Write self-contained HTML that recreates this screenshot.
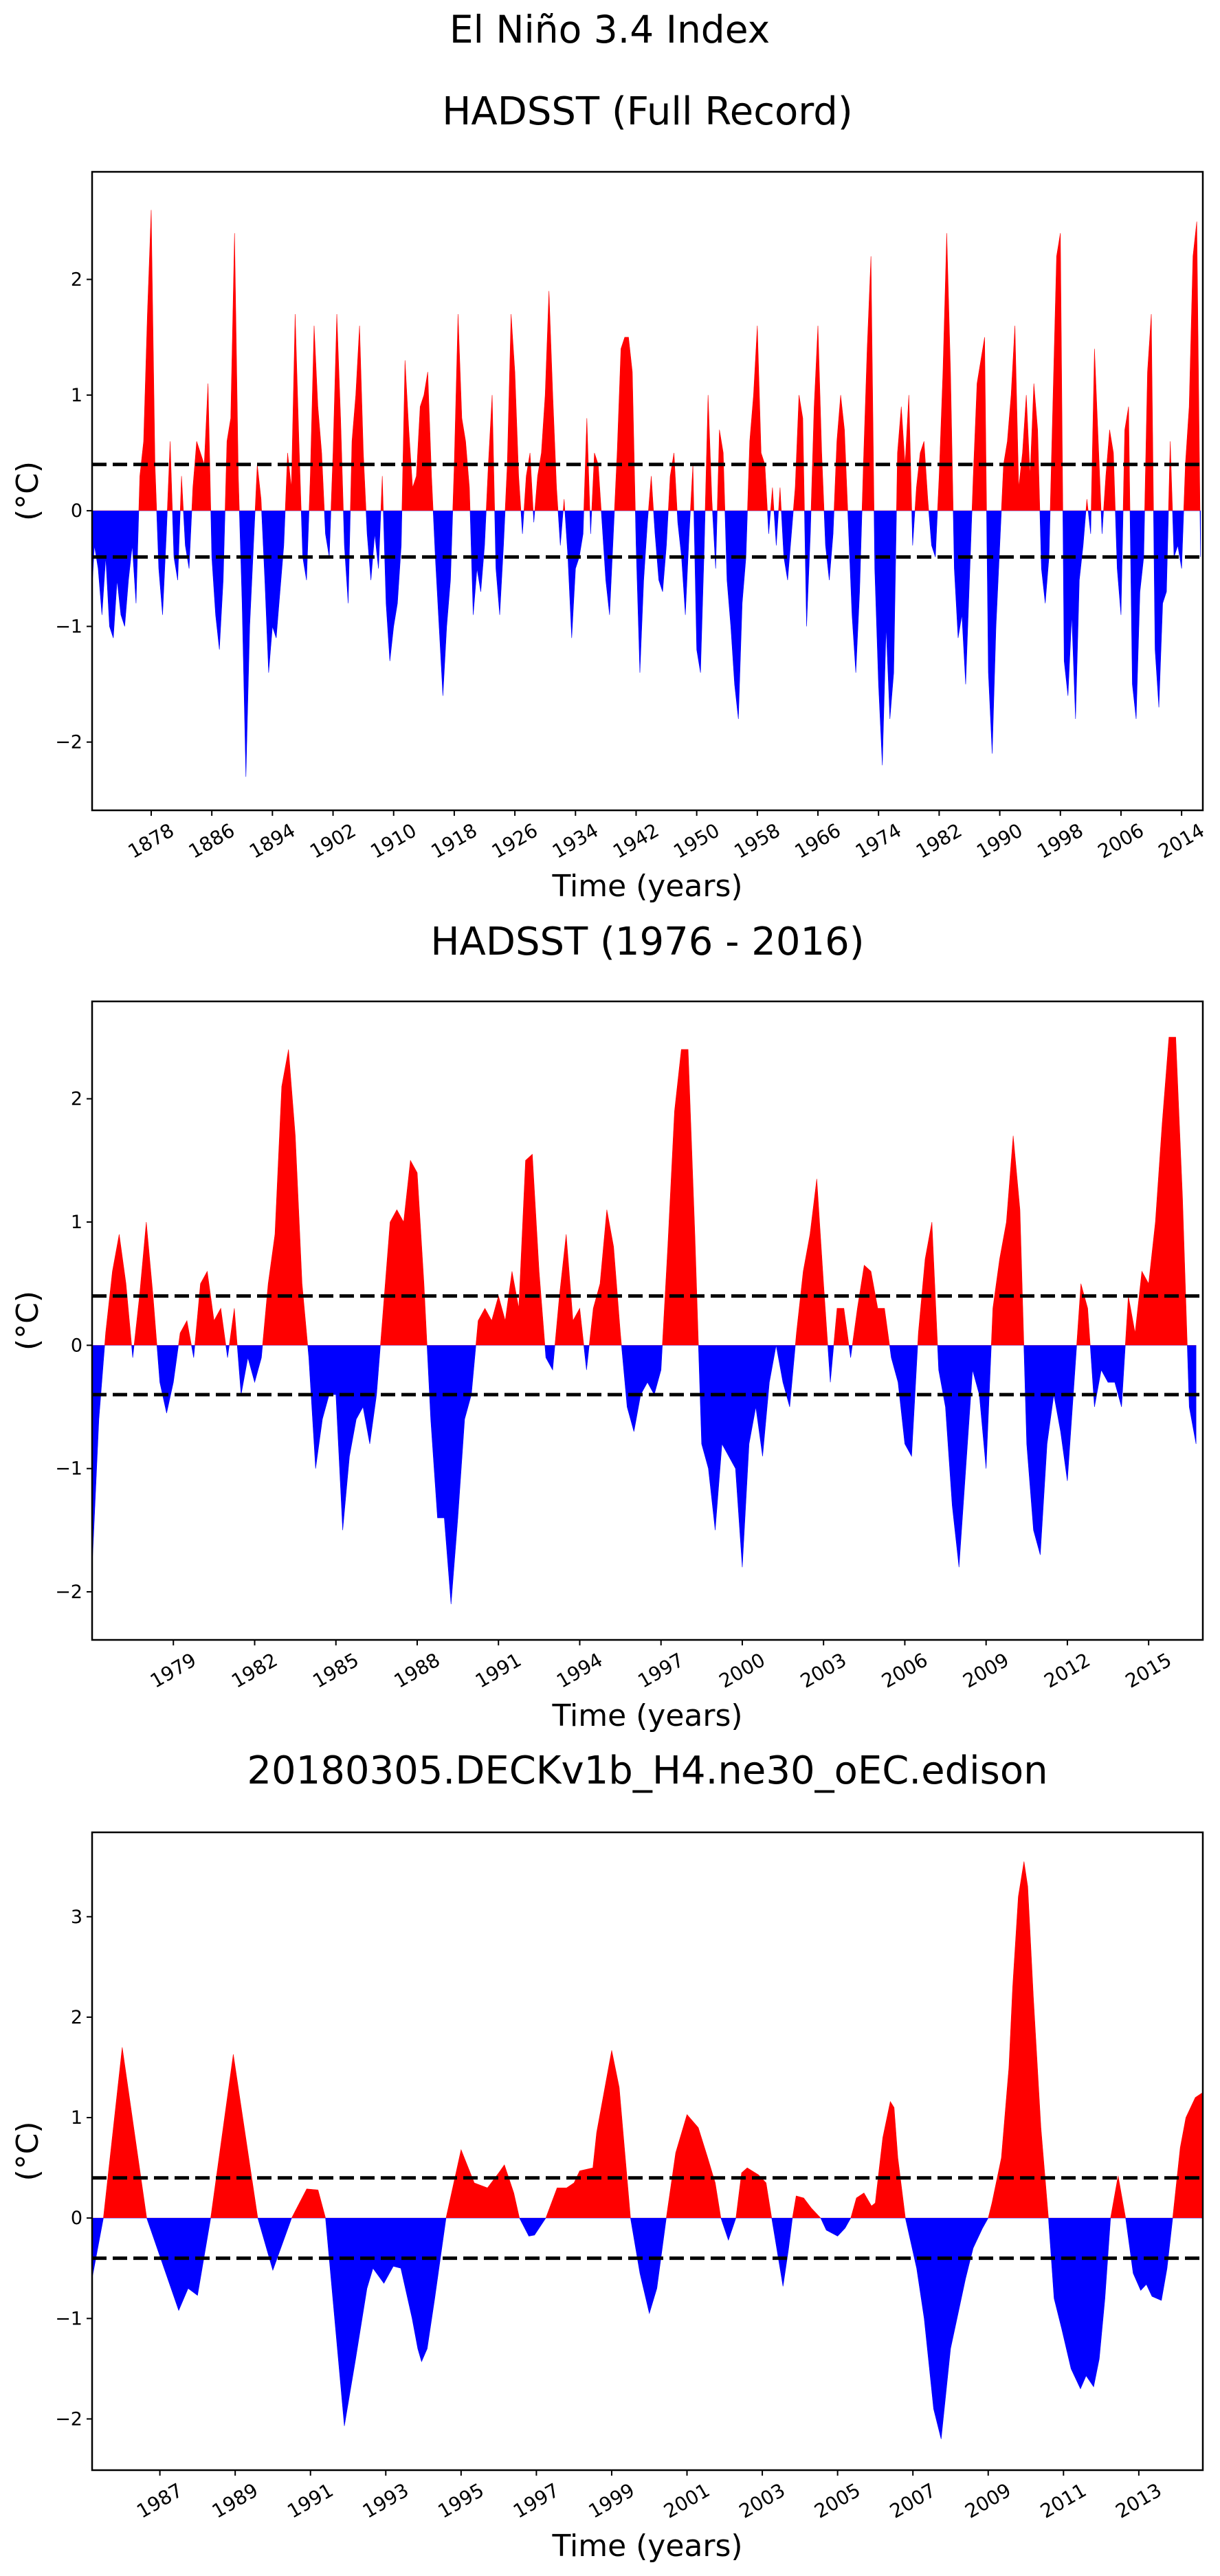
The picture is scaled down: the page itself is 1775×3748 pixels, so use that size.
<!DOCTYPE html>
<html><head><meta charset="utf-8"><title>El Niño 3.4 Index</title>
<style>html,body{margin:0;padding:0;background:#fff}svg{display:block}text{font-family:"DejaVu Sans","Liberation Sans",sans-serif;fill:#000}</style>
</head><body>
<svg id="fig" xmlns="http://www.w3.org/2000/svg" width="1775" height="3748" viewBox="0 0 1775 3748">
<rect width="1775" height="3748" fill="#fff"/>
<text x="887" y="62" font-size="55" text-anchor="middle">El Niño 3.4 Index</text>
</svg>
<script>
// ---- Panel 1: HADSST full record (half-year steps from 1870.0) ----
const p1Start = 1870.0;
const p1Step = 0.5;
const p1Values = [
-0.9,-0.3,-0.5,-0.9,-0.4,-1.0,-1.1,-0.6,-0.9,-1.0,-0.6,-0.3,-0.8,0.3,0.6,1.7,2.6,0.4,-0.5,-0.9,
-0.2,0.6,-0.4,-0.6,0.3,-0.3,-0.5,0.2,0.6,0.5,0.4,1.1,-0.4,-0.9,-1.2,-0.6,0.6,0.8,2.4,0.3,
-0.8,-2.3,-1.0,-0.3,0.4,0.1,-0.6,-1.4,-1.0,-1.1,-0.7,-0.3,0.5,0.2,1.7,0.6,-0.4,-0.6,0.3,1.6,
0.9,0.5,-0.2,-0.4,0.5,1.7,0.8,-0.3,-0.8,0.6,1.0,1.6,0.5,-0.2,-0.6,-0.2,-0.5,0.3,-0.8,-1.3,
-1.0,-0.8,-0.3,1.3,0.7,0.2,0.3,0.9,1.0,1.2,0.3,-0.4,-1.0,-1.6,-1.0,-0.6,0.4,1.7,0.8,0.6,
0.2,-0.9,-0.5,-0.7,-0.3,0.4,1.0,-0.5,-0.9,-0.3,0.4,1.7,1.2,0.3,-0.2,0.3,0.5,-0.1,0.3,0.5,
1.0,1.9,1.0,0.2,-0.3,0.1,-0.4,-1.1,-0.5,-0.4,-0.2,0.8,-0.2,0.5,0.4,-0.1,-0.6,-0.9,-0.2,0.5,
1.4,1.5,1.5,1.2,-0.3,-1.4,-0.6,-0.1,0.3,-0.2,-0.6,-0.7,-0.3,0.3,0.5,-0.1,-0.4,-0.9,-0.2,0.4,
-1.2,-1.4,-0.3,1.0,0.1,-0.5,0.7,0.5,-0.6,-1.0,-1.5,-1.8,-0.8,-0.4,0.6,1.0,1.6,0.5,0.4,-0.2,
0.2,-0.3,0.2,-0.4,-0.6,-0.2,0.2,1.0,0.8,-1.0,-0.2,0.9,1.6,0.5,-0.3,-0.6,-0.2,0.6,1.0,0.7,
-0.1,-0.9,-1.4,-0.7,0.4,1.4,2.2,-0.5,-1.5,-2.2,-1.0,-1.8,-1.4,0.5,0.9,0.4,1.0,-0.3,0.2,0.5,
0.6,0.1,-0.3,-0.4,0.3,1.2,2.4,1.2,-0.5,-1.1,-0.9,-1.5,-0.6,0.3,1.1,1.3,1.5,-1.4,-2.1,-1.0,
-0.3,0.4,0.6,1.0,1.6,0.2,0.5,1.0,0.3,1.1,0.7,-0.5,-0.8,-0.4,0.9,2.2,2.4,-1.3,-1.6,-0.9,
-1.8,-0.6,-0.3,0.1,-0.2,1.4,0.6,-0.2,0.3,0.7,0.5,-0.5,-0.9,0.7,0.9,-1.5,-1.8,-0.7,-0.4,1.2,
1.7,-1.2,-1.7,-0.8,-0.7,0.6,-0.4,-0.3,-0.5,0.4,0.9,2.2,2.5,-0.4
];
const p1TickYears = [1878,1886,1894,1902,1910,1918,1926,1934,1942,1950,1958,1966,1974,1982,1990,1998,2006,2014];
const p1TickValues = [-2,-1,0,1,2];

// ---- Panel 2: HADSST 1976-2016 (quarter-year steps from 1976.0) ----
const p2Start = 1976.0;
const p2Step = 0.25;
const p2Values = [
-1.8,-0.6,0.1,0.6, 0.9,0.5,-0.1,0.4, 1.0,0.4,-0.3,-0.55, -0.3,0.1,0.2,-0.1, 0.5,0.6,0.2,0.3,
-0.1,0.3,-0.4,-0.1, -0.3,-0.1,0.5,0.9, 2.1,2.4,1.7,0.5, -0.1,-1.0,-0.6,-0.4, -0.4,-1.5,-0.9,-0.6,
-0.5,-0.8,-0.4,0.3, 1.0,1.1,1.0,1.5, 1.4,0.5,-0.6,-1.4, -1.4,-2.1,-1.4,-0.6, -0.4,0.2,0.3,0.2,
0.4,0.2,0.6,0.3, 1.5,1.55,0.6,-0.1, -0.2,0.4,0.9,0.2, 0.3,-0.2,0.3,0.5, 1.1,0.8,0.1,-0.5,
-0.7,-0.4,-0.3,-0.4, -0.2,0.8,1.9,2.4, 2.4,0.9,-0.8,-1.0, -1.5,-0.8,-0.9,-1.0, -1.8,-0.8,-0.5,-0.9,
-0.3,0.0,-0.3,-0.5, 0.1,0.6,0.9,1.35, 0.5,-0.3,0.3,0.3, -0.1,0.3,0.65,0.6, 0.3,0.3,-0.1,-0.3,
-0.8,-0.9,0.1,0.7, 1.0,-0.2,-0.5,-1.3, -1.8,-1.0,-0.2,-0.4, -1.0,0.3,0.7,1.0, 1.7,1.1,-0.8,-1.5,
-1.7,-0.8,-0.4,-0.7, -1.1,-0.3,0.5,0.3, -0.5,-0.2,-0.3,-0.3, -0.5,0.4,0.1,0.6, 0.5,1.0,1.8,2.5,
2.5,1.2,-0.5,-0.8
];
const p2TickYears = [1979,1982,1985,1988,1991,1994,1997,2000,2003,2006,2009,2012,2015];
const p2TickValues = [-2,-1,0,1,2];

// ---- Panel 3: model run (year, value) ----
const p3Years = [1985.2,1985.5,1986.0,1986.65,1987.5,1987.75,1988.0,1988.35,1988.95,1989.6,1990.0,1990.5,1990.9,1991.2,1991.4,1991.9,1992.2,1992.5,1992.66,1992.95,1993.2,1993.4,1993.7,1993.85,1993.95,1994.1,1994.3,1994.6,1995.0,1995.35,1995.7,1996.0,1996.15,1996.4,1996.55,1996.8,1996.95,1997.25,1997.55,1997.8,1998.0,1998.15,1998.5,1998.6,1999.0,1999.2,1999.5,1999.75,2000.0,2000.2,2000.45,2000.7,2001.0,2001.3,2001.55,2001.75,2001.9,2002.1,2002.3,2002.45,2002.6,2002.9,2003.1,2003.25,2003.55,2003.7,2003.8,2003.9,2004.1,2004.3,2004.55,2004.7,2005.0,2005.2,2005.35,2005.5,2005.7,2005.9,2006.0,2006.2,2006.4,2006.5,2006.6,2006.8,2007.1,2007.3,2007.55,2007.75,2008.0,2008.4,2008.6,2008.85,2009.0,2009.1,2009.35,2009.55,2009.65,2009.8,2009.95,2010.05,2010.2,2010.4,2010.6,2010.75,2010.95,2011.2,2011.45,2011.6,2011.8,2011.95,2012.1,2012.25,2012.45,2012.65,2012.85,2013.05,2013.2,2013.35,2013.6,2013.75,2013.9,2014.1,2014.25,2014.5,2014.7];
const p3Values = [-0.6,0.0,1.7,0.0,-0.92,-0.7,-0.77,0.0,1.63,0.0,-0.52,0.0,0.29,0.28,0.0,-2.07,-1.4,-0.7,-0.5,-0.65,-0.48,-0.5,-1.0,-1.3,-1.43,-1.3,-0.8,0.0,0.68,0.35,0.3,0.45,0.53,0.25,0.0,-0.18,-0.17,0.0,0.3,0.3,0.35,0.47,0.5,0.85,1.67,1.3,0.0,-0.55,-0.95,-0.7,0.0,0.65,1.03,0.9,0.6,0.35,0.0,-0.22,0.0,0.45,0.5,0.43,0.35,0.0,-0.68,-0.3,0.0,0.22,0.2,0.1,0.0,-0.12,-0.18,-0.1,0.0,0.2,0.25,0.12,0.15,0.8,1.16,1.1,0.6,0.0,-0.5,-1.0,-1.9,-2.2,-1.3,-0.6,-0.3,-0.1,0.0,0.15,0.6,1.5,2.3,3.2,3.55,3.3,2.2,0.9,0.0,-0.8,-1.1,-1.5,-1.7,-1.57,-1.68,-1.4,-0.8,0.0,0.42,0.0,-0.55,-0.72,-0.66,-0.78,-0.82,-0.5,0.0,0.7,1.0,1.2,1.25];
const p3TickYears = [1987,1989,1991,1993,1995,1997,1999,2001,2003,2005,2007,2009,2011,2013];
const p3TickValues = [-2,-1,0,1,2,3];

const NS = "http://www.w3.org/2000/svg";
const fig = document.getElementById('fig');
function mk(tag, attrs, parent) {
  const e = document.createElementNS(NS, tag);
  for (const k in attrs) e.setAttribute(k, attrs[k]);
  (parent || fig).appendChild(e);
  return e;
}

function drawPanel(idx, cfg) {
  const L = 134, R = 1750, T = cfg.top, B = cfg.bottom;
  const xs = y => L + (y - cfg.x0) / (cfg.x1 - cfg.x0) * (R - L);
  const ys = v => B - (v - cfg.y0) / (cfg.y1 - cfg.y0) * (B - T);
  const g = mk('g', {});
  
  

  const defs = mk('defs', {}, g);
  const cpA = mk('clipPath', {id: 'above' + idx}, defs);
  mk('rect', {x: L, y: T, width: R - L, height: ys(0) - T}, cpA);
  const cpB = mk('clipPath', {id: 'below' + idx}, defs);
  mk('rect', {x: L, y: ys(0), width: R - L, height: B - ys(0)}, cpB);

  let d = 'M' + xs(cfg.years[0]).toFixed(2) + ',' + ys(0).toFixed(2);
  for (let i = 0; i < cfg.years.length; i++) d += ' L' + xs(cfg.years[i]).toFixed(2) + ',' + ys(cfg.values[i]).toFixed(2);
  d += ' L' + xs(cfg.years[cfg.years.length - 1]).toFixed(2) + ',' + ys(0).toFixed(2) + ' Z';

  const red = mk('path', {d: d, fill: '#ff0000', stroke: '#ff0000', 'stroke-width': 0.6, 'clip-path': 'url(#above' + idx + ')'}, g);
  
  
  const blue = mk('path', {d: d, fill: '#0000ff', stroke: '#0000ff', 'stroke-width': 0.6, 'clip-path': 'url(#below' + idx + ')'}, g);
  
  

  [0.4, -0.4].forEach(v => {
    const ln = mk('line', {x1: L, x2: R, y1: ys(v), y2: ys(v), stroke: '#000', 'stroke-width': 5, 'stroke-dasharray': '21 9'}, g);
    
    
  });

  const frame = mk('rect', {x: L, y: T, width: R - L, height: B - T, fill: 'none', stroke: '#000', 'stroke-width': 2.5}, g);
  
  

  cfg.yticks.forEach(v => {
    const y = ys(v);
    mk('line', {x1: L - 8, x2: L, y1: y, y2: y, stroke: '#000', 'stroke-width': 2}, g);
    const t = mk('text', {x: L - 14, y: y + 9, 'font-size': 27, 'text-anchor': 'end'}, g);
    
    
    t.textContent = v < 0 ? '\u2212' + Math.abs(v) : String(v);
  });
  cfg.xticks.forEach(yr => {
    const x = xs(yr);
    mk('line', {x1: x, x2: x, y1: B, y2: B + 8, stroke: '#000', 'stroke-width': 2}, g);
    const t = mk('text', {x: x, y: B + 54, 'font-size': 28, 'text-anchor': 'middle', transform: 'rotate(-30 ' + x + ' ' + (B + 45) + ')'}, g);
    
    
    t.textContent = String(yr);
  });

  const title = mk('text', {x: (L + R) / 2, y: cfg.titleY, 'font-size': 56, 'text-anchor': 'middle'}, g);
  
  
  title.textContent = cfg.title;

  const xl = mk('text', {x: (L + R) / 2, y: B + 125, 'font-size': 44, 'text-anchor': 'middle'}, g);
  
  
  xl.textContent = 'Time (years)';

  const my = (T + B) / 2;
  const yl = mk('text', {x: 55, y: my, 'font-size': 44, 'text-anchor': 'middle', transform: 'rotate(-90 55 ' + my + ')'}, g);
  
  
  yl.textContent = '(\u00B0C)';
}

const p1Years = p1Values.map((v, i) => p1Start + i * p1Step);
const p2Years = p2Values.map((v, i) => p2Start + i * p2Step);

drawPanel(1, {top: 250, bottom: 1179, x0: 1870.2, x1: 2016.8, y0: -2.59, y1: 2.93,
  years: p1Years, values: p1Values, xticks: p1TickYears, yticks: p1TickValues,
  title: 'HADSST (Full Record)', titleY: 181});
drawPanel(2, {top: 1457, bottom: 2386, x0: 1976.0, x1: 2017.0, y0: -2.39, y1: 2.79,
  years: p2Years, values: p2Values, xticks: p2TickYears, yticks: p2TickValues,
  title: 'HADSST (1976 - 2016)', titleY: 1389});
drawPanel(3, {top: 2666, bottom: 3594, x0: 1985.2, x1: 2014.7, y0: -2.51, y1: 3.84,
  years: p3Years, values: p3Values, xticks: p3TickYears, yticks: p3TickValues,
  title: '20180305.DECKv1b_H4.ne30_oEC.edison', titleY: 2595});
</script>
</body></html>
